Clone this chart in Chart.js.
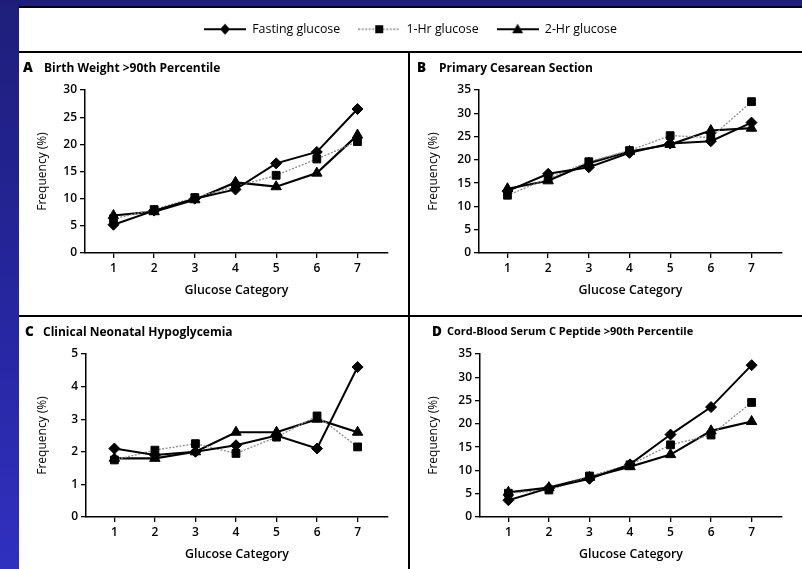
<!DOCTYPE html>
<html>
<head>
<meta charset="utf-8">
<script src="https://cdn.jsdelivr.net/npm/chart.js@4.4.1/dist/chart.umd.min.js"></script>
<style>
  html, body { margin: 0; padding: 0; }
  body {
    width: 802px; height: 569px; overflow: hidden; position: relative;
    background: linear-gradient(to bottom, #1e1e7a 0%, #2626a0 55%, #3030c0 100%);
  }
  #sheet { position: absolute; left: 19px; top: 6px; width: 783px; height: 563px; background: #fff; border-top: 2px solid #000; box-sizing: border-box; }
  .rule { position: absolute; background: #000; }
  canvas { position: absolute; }
</style>
</head>
<body>
<div id="sheet"></div>
<canvas id="legend" width="783" height="120" style="left:19px; top:0px"></canvas>
<div class="rule" style="left:19px; top:51px; width:783px; height:2px"></div>
<div class="rule" style="left:19px; top:315px; width:783px; height:2px"></div>
<div class="rule" style="left:408px; top:51px; width:2px; height:518px"></div>

<canvas id="chartA" width="389" height="261" style="left:19px; top:53px"></canvas>
<canvas id="chartB" width="392" height="261" style="left:410px; top:53px"></canvas>
<canvas id="chartC" width="389" height="261" style="left:19px; top:317px"></canvas>
<canvas id="chartD" width="392" height="261" style="left:410px; top:317px"></canvas>

<script>
// glucose categories on the x axis
const categories = [1, 2, 3, 4, 5, 6, 7];
const seriesNames = ['Fasting glucose', '1-Hr glucose', '2-Hr glucose'];

// A  Birth weight >90th percentile
const birthFasting = [5.2, 7.8, 10.0, 11.7, 16.5, 18.6, 26.5];
const birthOneHr   = [6.3, 8.0, 10.2, 12.2, 14.3, 17.3, 20.5];
const birthTwoHr   = [6.9, 7.6, 9.8, 13.0, 12.2, 14.7, 21.7];
const birthTicks   = [0, 5, 10, 15, 20, 25, 30];

// B  Primary cesarean section
const cesareanFasting = [13.3, 17.0, 18.4, 21.5, 23.5, 24.0, 28.0];
const cesareanOneHr   = [12.4, 16.0, 19.6, 22.0, 25.2, 24.8, 32.5];
const cesareanTwoHr   = [13.8, 15.5, 19.3, 21.8, 23.3, 26.3, 26.8];
const cesareanTicks   = [0, 5, 10, 15, 20, 25, 30, 35];

// C  Clinical neonatal hypoglycemia
const hypoFasting = [2.1, 1.9, 2.0, 2.2, 2.5, 2.1, 4.6];
const hypoOneHr   = [1.75, 2.05, 2.25, 1.95, 2.45, 3.1, 2.15];
const hypoTwoHr   = [1.8, 1.8, 2.0, 2.6, 2.6, 3.0, 2.6];
const hypoTicks   = [0, 1, 2, 3, 4, 5];

// D  Cord-blood serum C peptide >90th percentile
const peptideFasting = [3.6, 6.2, 8.2, 11.3, 17.7, 23.6, 32.6];
const peptideOneHr   = [5.1, 5.8, 8.8, 11.2, 15.5, 17.6, 24.6];
const peptideTwoHr   = [5.3, 6.3, 8.5, 10.8, 13.4, 18.5, 20.5];
const peptideTicks   = [0, 5, 10, 15, 20, 25, 30, 35];

const FONT = "'Open Sans', 'DejaVu Sans', sans-serif";
Chart.defaults.font.family = FONT;
Chart.defaults.color = '#000';

const seriesStyle = [
  { line: '#000', width: 2, dash: [], point: 'rectRot', radius: 5.5 },
  { line: '#8c8c8c', width: 1.3, dash: [2, 1.5], point: 'rect', radius: 5.5 },
  { line: '#000', width: 2.2, dash: [], point: 'triangle', radius: 6 }
];

// little line+marker pictures for the legend
function legendIcon(i) {
  const c = document.createElement('canvas');
  c.width = 42; c.height = 14;
  const g = c.getContext('2d');
  const st = seriesStyle[i];
  g.strokeStyle = st.line; g.lineWidth = st.width; g.setLineDash(st.dash);
  g.beginPath(); g.moveTo(0, 7); g.lineTo(42, 7); g.stroke();
  g.fillStyle = '#000';
  g.beginPath();
  if (i === 0) { g.moveTo(21, 1.5); g.lineTo(26, 7); g.lineTo(21, 12.5); g.lineTo(16, 7); }
  else if (i === 1) { g.rect(17, 3, 8, 8); }
  else { g.moveTo(21, 1.5); g.lineTo(26.5, 11); g.lineTo(15.5, 11); }
  g.closePath(); g.fill();
  return c;
}
const legendIcons = seriesNames.map((n, i) => legendIcon(i));

new Chart(document.getElementById('legend'), {
  type: 'line',
  data: { datasets: seriesNames.map(name => ({ label: name, data: [] })) },
  options: {
    responsive: false, animation: false,
    layout: { padding: { top: 5 } },
    scales: { x: { display: false }, y: { display: false } },
    plugins: {
      tooltip: { enabled: false },
      legend: {
        display: true, position: 'top',
        labels: {
          usePointStyle: true, pointStyleWidth: 42, padding: 18,
          color: '#000', font: { size: 12.4, family: FONT },
          generateLabels: chart => chart.data.datasets.map((ds, i) => ({
            text: ds.label, pointStyle: legendIcons[i], fillStyle: '#000',
            strokeStyle: '#000', lineWidth: 0, hidden: false, datasetIndex: i
          }))
        }
      }
    }
  }
});

const panelTitle = {
  id: 'panelTitle',
  afterDraw(chart, args, opts) {
    const ctx = chart.ctx;
    ctx.save();
    ctx.fillStyle = '#000';
    ctx.textBaseline = 'middle';
    ctx.font = "800 13.5px " + FONT;
    ctx.fillText(opts.letter, opts.letterX, opts.y);
    ctx.font = "700 " + opts.size + "px " + FONT;
    ctx.fillText(opts.text, opts.textX, opts.y);
    ctx.restore();
  }
};

function makePanel(id, letter, text, titleSize, letterX, textX, left, yTicks, fasting, oneHr, twoHr) {
  const values = [fasting, oneHr, twoHr];
  new Chart(document.getElementById(id), {
    type: 'line',
    data: {
      datasets: values.map((vals, i) => ({
        label: seriesNames[i],
        data: vals.map((v, k) => ({ x: categories[k], y: v })),
        borderColor: seriesStyle[i].line,
        borderWidth: seriesStyle[i].width,
        borderDash: seriesStyle[i].dash,
        pointStyle: seriesStyle[i].point,
        pointRadius: seriesStyle[i].radius,
        pointBackgroundColor: '#000',
        pointBorderColor: '#000',
        pointBorderWidth: 1,
        tension: 0,
        fill: false
      }))
    },
    options: {
      responsive: false, animation: false,
      layout: { padding: { top: 37, right: 20, bottom: 5, left: 0 } },
      scales: {
        x: {
          type: 'linear', min: 0.3, max: 7.75,
          afterBuildTicks: s => { s.ticks = categories.map(v => ({ value: v })); },
          afterFit: s => { s.height = 56; },
          border: { color: '#000', width: 1.5 },
          grid: { drawOnChartArea: false, color: '#000', tickLength: 5, lineWidth: 1.3 },
          ticks: { color: '#000', padding: 3, font: { size: 12, weight: 600 } },
          title: { display: true, text: 'Glucose Category', color: '#000',
                   font: { size: 12.4, weight: 600 }, padding: { top: 0, bottom: 10.6 } }
        },
        y: {
          min: 0, max: yTicks[yTicks.length - 1],
          afterBuildTicks: s => { s.ticks = yTicks.map(v => ({ value: v })); },
          afterFit: s => { s.width = left; },
          border: { color: '#000', width: 1.5 },
          grid: { drawOnChartArea: false, color: '#000', tickLength: 5, lineWidth: 1.3 },
          ticks: { color: '#000', padding: 3, font: { size: 12, weight: 600 } },
          title: { display: true, text: 'Frequency (%)', color: '#000',
                   font: { size: 12, weight: 500 }, padding: { top: 16.8, bottom: 0 } }
        }
      },
      plugins: {
        legend: { display: false },
        tooltip: { enabled: false },
        panelTitle: { letter: letter, text: text, size: titleSize, letterX: letterX, textX: textX, y: 15.3 }
      }
    },
    plugins: [panelTitle]
  });
}

makePanel('chartA', 'A', 'Birth Weight >90th Percentile', 12, 4, 25, 66, birthTicks, birthFasting, birthOneHr, birthTwoHr);
makePanel('chartB', 'B', 'Primary Cesarean Section', 12, 7, 29, 69, cesareanTicks, cesareanFasting, cesareanOneHr, cesareanTwoHr);
makePanel('chartC', 'C', 'Clinical Neonatal Hypoglycemia', 12, 6, 24, 67, hypoTicks, hypoFasting, hypoOneHr, hypoTwoHr);
makePanel('chartD', 'D', 'Cord-Blood Serum C Peptide >90th Percentile', 11, 22, 37, 70, peptideTicks, peptideFasting, peptideOneHr, peptideTwoHr);
</script>
</body>
</html>
